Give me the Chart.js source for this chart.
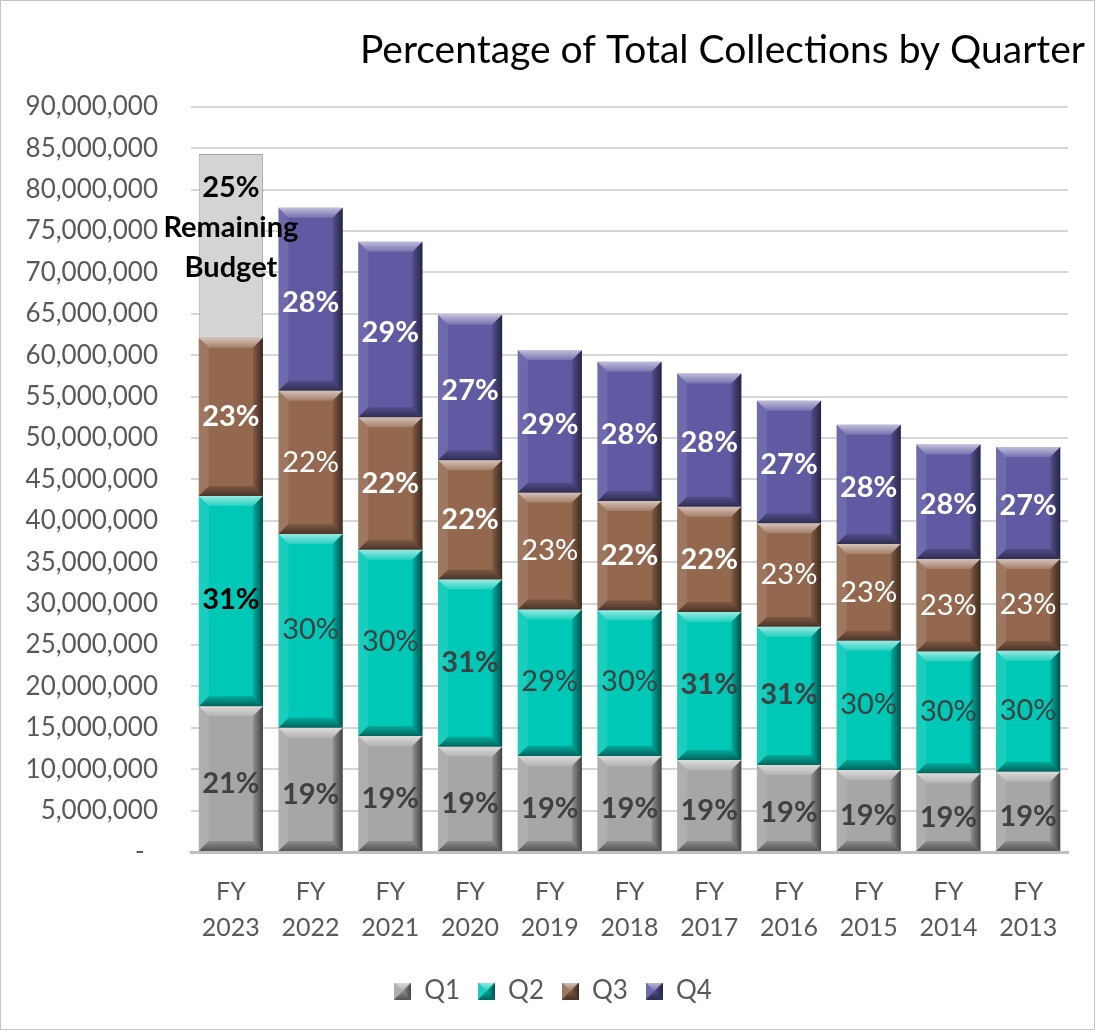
<!DOCTYPE html>
<html>
<head>
<meta charset="utf-8">
<script src="https://cdn.jsdelivr.net/npm/chart.js@4.4.1/dist/chart.umd.min.js"></script>
<style>
  html, body { margin: 0; padding: 0; background: #fff; }
  #wrap { width: 1095px; height: 1030px; box-sizing: border-box; border: 1px solid #c4c4c4; position: relative; background: #fff; }
  canvas { display: block; }
</style>
</head>
<body>
<div id="wrap"><canvas id="c" width="1093" height="1028"></canvas></div>
<script>
// ---------- data ----------
const categories = [['FY','2023'],['FY','2022'],['FY','2021'],['FY','2020'],['FY','2019'],['FY','2018'],['FY','2017'],['FY','2016'],['FY','2015'],['FY','2014'],['FY','2013']];
const q1 = [17600000, 15000000, 14000000, 12700000, 11600000, 11600000, 11100000, 10500000, 9900000, 9500000, 9700000];
const q2 = [25400000, 23400000, 22500000, 20200000, 17700000, 17600000, 17900000, 16700000, 15600000, 14700000, 14600000];
const q3 = [19100000, 17300000, 16000000, 14400000, 14100000, 13200000, 12700000, 12500000, 11700000, 11200000, 11100000];
const q4 = [null, 22100000, 21200000, 17600000, 17200000, 16800000, 16100000, 14800000, 14400000, 13800000, 13500000];
const remaining = [22200000, null, null, null, null, null, null, null, null, null, null];
const q1Pct = ['21%','19%','19%','19%','19%','19%','19%','19%','19%','19%','19%'];
const q2Pct = ['31%','30%','30%','31%','29%','30%','31%','31%','30%','30%','30%'];
const q3Pct = ['23%','22%','22%','22%','23%','22%','22%','23%','23%','23%','23%'];
const q4Pct = ['','28%','29%','27%','29%','28%','28%','27%','28%','28%','27%'];
const remainingPct = ['25%','Remaining','Budget'];
const yMin = 0, yMax = 90000000, yStep = 5000000;
const titleText = 'Percentage of Total Collections by Quarter';

// ---------- styles ----------
const FONT = 'Lato';
Chart.defaults.font.family = FONT;
const colors = { q1: '#a6a6a6', q2: '#00c8b6', q3: '#94684f', q4: '#5f5aa2', rem: '#d4d4d4' };
const q2BoldIdx = [0, 3, 6, 7];
const q3BoldIdx = [0, 2, 3, 5, 6];

function poly(ctx, pts, fill) {
  ctx.beginPath();
  ctx.moveTo(pts[0][0], pts[0][1]);
  for (let i = 1; i < pts.length; i++) ctx.lineTo(pts[i][0], pts[i][1]);
  ctx.closePath();
  ctx.fillStyle = fill;
  ctx.fill();
}
function bevel(ctx, l, t, r, b, d) {
  let g = ctx.createLinearGradient(0, t, 0, t + d);
  g.addColorStop(0, 'rgba(255,255,255,0.6)');
  g.addColorStop(1, 'rgba(255,255,255,0.15)');
  poly(ctx, [[l,t],[r,t],[r-d,t+d],[l+d,t+d]], g);
  g = ctx.createLinearGradient(0, b - d, 0, b);
  g.addColorStop(0, 'rgba(0,0,0,0.15)');
  g.addColorStop(1, 'rgba(0,0,0,0.5)');
  poly(ctx, [[l,b],[r,b],[r-d,b-d],[l+d,b-d]], g);
  poly(ctx, [[l,t],[l+d,t+d],[l+d,b-d],[l,b]], 'rgba(255,255,255,0.10)');
  g = ctx.createLinearGradient(r - d, 0, r, 0);
  g.addColorStop(0, 'rgba(0,0,0,0.12)');
  g.addColorStop(1, 'rgba(0,0,0,0.6)');
  poly(ctx, [[r,t],[r-d,t+d],[r-d,b-d],[r,b]], g);
}
function legendIcon(color) {
  const c = document.createElement('canvas');
  c.width = 17; c.height = 17;
  const x = c.getContext('2d');
  x.fillStyle = color; x.fillRect(0, 0, 17, 17);
  bevel(x, 0, 0, 17, 17, 8.5);
  return c;
}

const bevelPlugin = {
  id: 'bevel',
  afterDatasetsDraw(chart) {
    const ctx = chart.ctx;
    ctx.save();
    chart.data.datasets.forEach((ds, i) => {
      if (!ds.bevel) return;
      const meta = chart.getDatasetMeta(i);
      meta.data.forEach((el, j) => {
        if (ds.data[j] == null) return;
        const p = el.getProps(['x','y','base','width'], true);
        const l = p.x - p.width / 2, r = p.x + p.width / 2;
        const t = Math.min(p.y, p.base), b = Math.max(p.y, p.base);
        const d = Math.min(10, (b - t) / 3);
        bevel(ctx, l, t, r, b, d);
      });
    });
    ctx.restore();
  }
};

const labelPlugin = {
  id: 'segLabels',
  afterDatasetsDraw(chart) {
    const ctx = chart.ctx;
    ctx.save();
    ctx.textAlign = 'center';
    ctx.textBaseline = 'middle';
    chart.data.datasets.forEach((ds, i) => {
      const meta = chart.getDatasetMeta(i);
      meta.data.forEach((el, j) => {
        if (ds.data[j] == null) return;
        const p = el.getProps(['x','y','base'], true);
        const cy = (p.y + p.base) / 2;
        const st = ds.labelStyle(j);
        ctx.font = st.weight + ' 29px ' + FONT;
        ctx.fillStyle = st.color;
        const lines = ds.labelLines(j);
        const lh = 40;
        const y0 = cy + (st.dy || 0) - (lines.length - 1) * lh / 2;
        lines.forEach((s, k) => ctx.fillText(s, p.x, y0 + k * lh));
      });
    });
    ctx.restore();
  }
};

const legendShift = {
  id: 'legendShift',
  afterLayout(chart) {
    if (chart.legend) { chart.legend.left += 10; chart.legend.right += 10; }
  }
};

const datasets = [
  { label: 'Q1', data: q1, backgroundColor: colors.q1, bevel: true, icon: legendIcon(colors.q1),
    labelLines: j => [q1Pct[j]], labelStyle: j => ({ weight: 'bold', color: '#404040', dy: 5 }) },
  { label: 'Q2', data: q2, backgroundColor: colors.q2, bevel: true, icon: legendIcon(colors.q2),
    labelLines: j => [q2Pct[j]], labelStyle: j => ({ weight: q2BoldIdx.includes(j) ? 'bold' : 'normal', color: j === 0 ? '#000' : '#404040', dy: -1 }) },
  { label: 'Q3', data: q3, backgroundColor: colors.q3, bevel: true, icon: legendIcon(colors.q3),
    labelLines: j => [q3Pct[j]], labelStyle: j => ({ weight: q3BoldIdx.includes(j) ? 'bold' : 'normal', color: '#fff' }) },
  { label: 'Q4', data: q4, backgroundColor: colors.q4, bevel: true, icon: legendIcon(colors.q4),
    labelLines: j => [q4Pct[j]], labelStyle: j => ({ weight: 'bold', color: '#fff', dy: 3 }) },
  { label: 'Remaining Budget', data: remaining, backgroundColor: colors.rem, borderColor: '#a8a8a8', borderWidth: 1, borderSkipped: false,
    labelLines: j => remainingPct, labelStyle: j => ({ weight: 'bold', color: '#000', dy: -18 }) }
];

new Chart(document.getElementById('c'), {
  type: 'bar',
  data: { labels: categories, datasets: datasets },
  plugins: [bevelPlugin, labelPlugin, legendShift],
  options: {
    responsive: false,
    animation: false,
    layout: { padding: { left: 0, right: 9, top: 0, bottom: 15 } },
    datasets: { bar: { categoryPercentage: 1.0, barPercentage: 0.805 } },
    plugins: {
      tooltip: { enabled: false },
      title: {
        display: true, text: titleText, align: 'end', color: '#000',
        font: { family: FONT, size: 39, weight: 'normal' },
        padding: { top: 26, bottom: 33 }
      },
      legend: {
        position: 'bottom',
        labels: {
          generateLabels: chart => chart.data.datasets.slice(0, 4).map((ds, i) => ({
            text: ds.label, pointStyle: ds.icon, fillStyle: ds.backgroundColor, strokeStyle: ds.backgroundColor,
            lineWidth: 0, datasetIndex: i, hidden: false, fontColor: '#595959'
          })),
          usePointStyle: true,
          pointStyleWidth: 17,
          color: '#595959',
          font: { family: FONT, size: 26 },
          padding: 18
        }
      }
    },
    scales: {
      x: {
        stacked: true,
        grid: { display: false },
        border: { display: true, color: '#bfbfbf', width: 3 },
        ticks: { color: '#595959', font: { family: FONT, size: 25, lineHeight: 1.44 }, padding: 14, maxRotation: 0, autoSkip: false }
      },
      y: {
        stacked: true,
        min: yMin, max: yMax,
        afterFit: s => { s.width = 190; },
        grid: { color: '#d6d6d6', lineWidth: 2, drawTicks: false },
        border: { display: false },
        ticks: {
          stepSize: yStep, padding: 33, color: '#595959', font: { family: FONT, size: 26 },
          callback: v => v === 0 ? '-  ' : v.toLocaleString('en-US')
        }
      },
      yr: {
        position: 'right', display: true,
        afterFit: s => { s.width = 17; },
        grid: { display: false }, border: { display: false }, ticks: { display: false }
      }
    }
  }
});
</script>
</body>
</html>
